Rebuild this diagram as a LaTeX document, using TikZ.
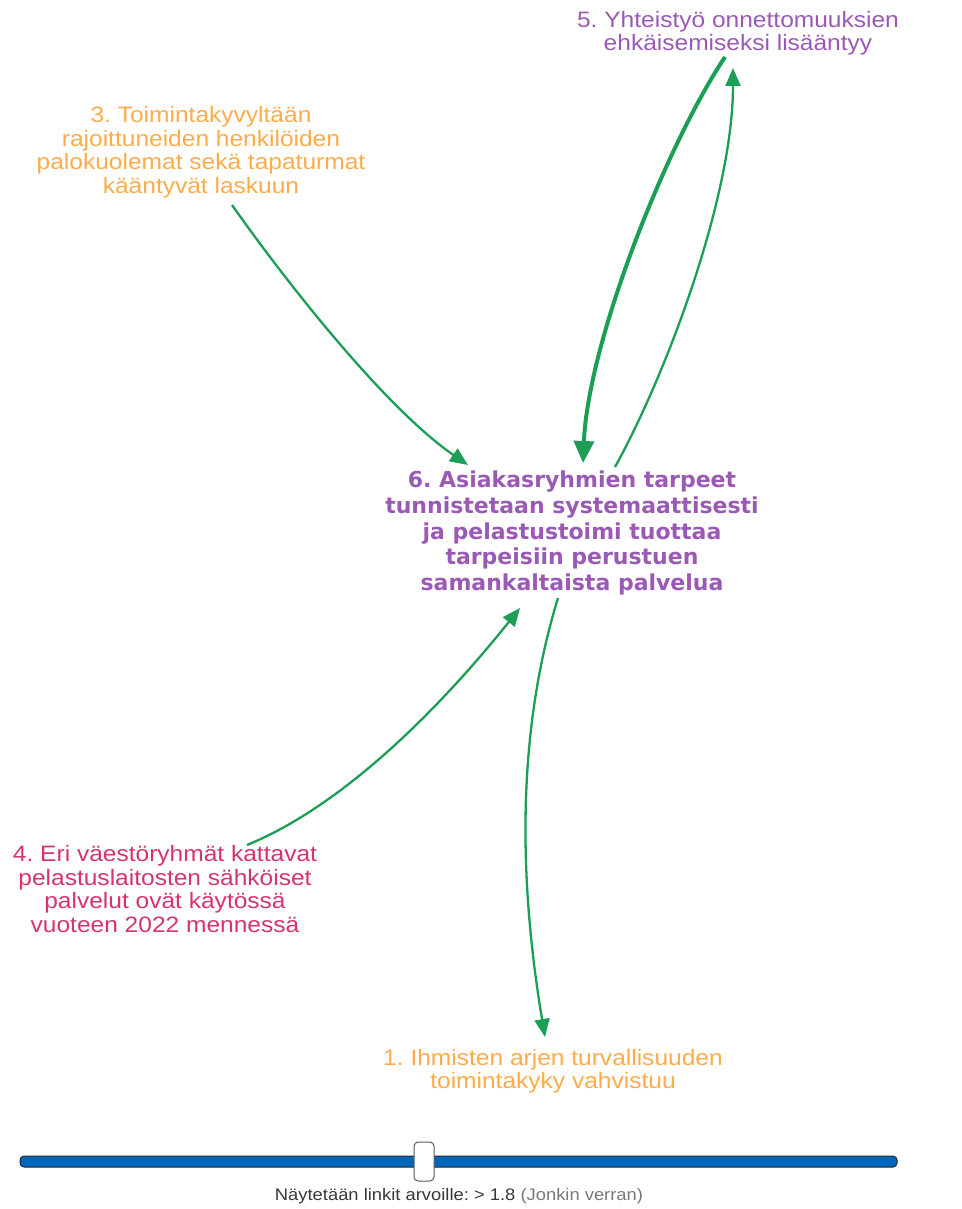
\documentclass[tikz,border=0pt]{standalone}
\usepackage{fontspec}
\setmainfont{Liberation Sans}
\newfontfamily\labelfont{Liberation Sans}[FakeStretch=1.1]
\newfontfamily\centerfont{DejaVu Sans}
\usetikzlibrary{arrows.meta}
\frenchspacing

\definecolor{goalpurple}{RGB}{155,89,182}
\definecolor{goalorange}{RGB}{255,172,72}
\definecolor{goalpink}{RGB}{214,51,112}
\definecolor{linkgreen}{RGB}{28,158,86}
\definecolor{sliderblue}{RGB}{0,102,187}
\definecolor{captiondark}{RGB}{55,55,55}
\definecolor{captiongray}{RGB}{120,120,120}

\begin{document}
\begin{tikzpicture}[
    x=1pt, y=-1pt,
    % Style for the goal labels round the centre
    goal/.style={align=center, inner sep=0pt,
        font=\labelfont\fontsize{22.3}{23.5}\selectfont},
    % Style for the central goal
    main goal/.style={align=center, inner sep=0pt, text=goalpurple,
        font=\centerfont\bfseries\fontsize{22}{25.75}\selectfont},
    % Style for the green links
    link/.style={linkgreen, line width=2.3pt, -{Triangle[length=18pt, width=15pt]}},
    strong link/.style={linkgreen, line width=4pt, -{Triangle[length=22pt, width=20pt]}}
]

    % --- 1. Frame ---
    \useasboundingbox (0,0) rectangle (961,1209);

    % --- 2. Goals ---
    \node[goal, text=goalpurple] (g5) at (738,33)
        {5. Yhteistyö onnettomuuksien\\ehkäisemiseksi lisääntyy};
    \node[goal, text=goalorange] (g3) at (201,152)
        {3. Toimintakyvyltään\\rajoittuneiden henkilöiden\\palokuolemat sekä tapaturmat\\kääntyvät laskuun};
    \node[main goal] (g6) at (572,533)
        {6. Asiakasryhmien tarpeet\\tunnistetaan systemaattisesti\\ja pelastustoimi tuottaa\\tarpeisiin perustuen\\samankaltaista palvelua};
    \node[goal, text=goalpink] (g4) at (165,889)
        {4. Eri väestöryhmät kattavat\\pelastuslaitosten sähköiset\\palvelut ovät käytössä\\vuoteen 2022 mennessä};
    \node[goal, text=goalorange] (g1) at (553,1071)
        {1. Ihmisten arjen turvallisuuden\\toimintakyky vahvistuu};

    % --- 3. Links ---
    \draw[link] ([shift={(31,53)}]g3.center)
        .. controls +(60,85) and +(-80,-55) .. ([shift={(-104,-68)}]g6.center);
    \draw[strong link] ([shift={(-13,24)}]g5.center)
        .. controls +(-60,90) and +(5,-120) .. ([shift={(11,-70)}]g6.center);
    \draw[link] ([shift={(43,-66)}]g6.center)
        .. controls +(50,-90) and +(0,130) .. ([shift={(-5,35)}]g5.center);
    \draw[link] ([shift={(82,-44)}]g4.center)
        .. controls +(110,-45) and +(-60,75) .. ([shift={(-52,75)}]g6.center);
    \draw[link] ([shift={(-14,65)}]g6.center)
        .. controls +(-43,140) and +(-25,-150) .. ([shift={(-8,-34)}]g1.center);

    % --- 4. Slider ---
    \draw[fill=sliderblue, draw=black!85, line width=1pt, rounded corners=4pt]
        (20,1156) rectangle (897,1167);
    \draw[fill=white, draw=black!65, line width=1pt, rounded corners=4pt]
        (414,1142) rectangle (434,1181);
    \node[inner sep=0pt, text=captiondark, font=\labelfont\fontsize{16.7}{18}\selectfont]
        (caption) at (459,1196)
        {Näytetään linkit arvoille: > 1.8 \textcolor{captiongray}{(Jonkin verran)}};

\end{tikzpicture}
\end{document}
